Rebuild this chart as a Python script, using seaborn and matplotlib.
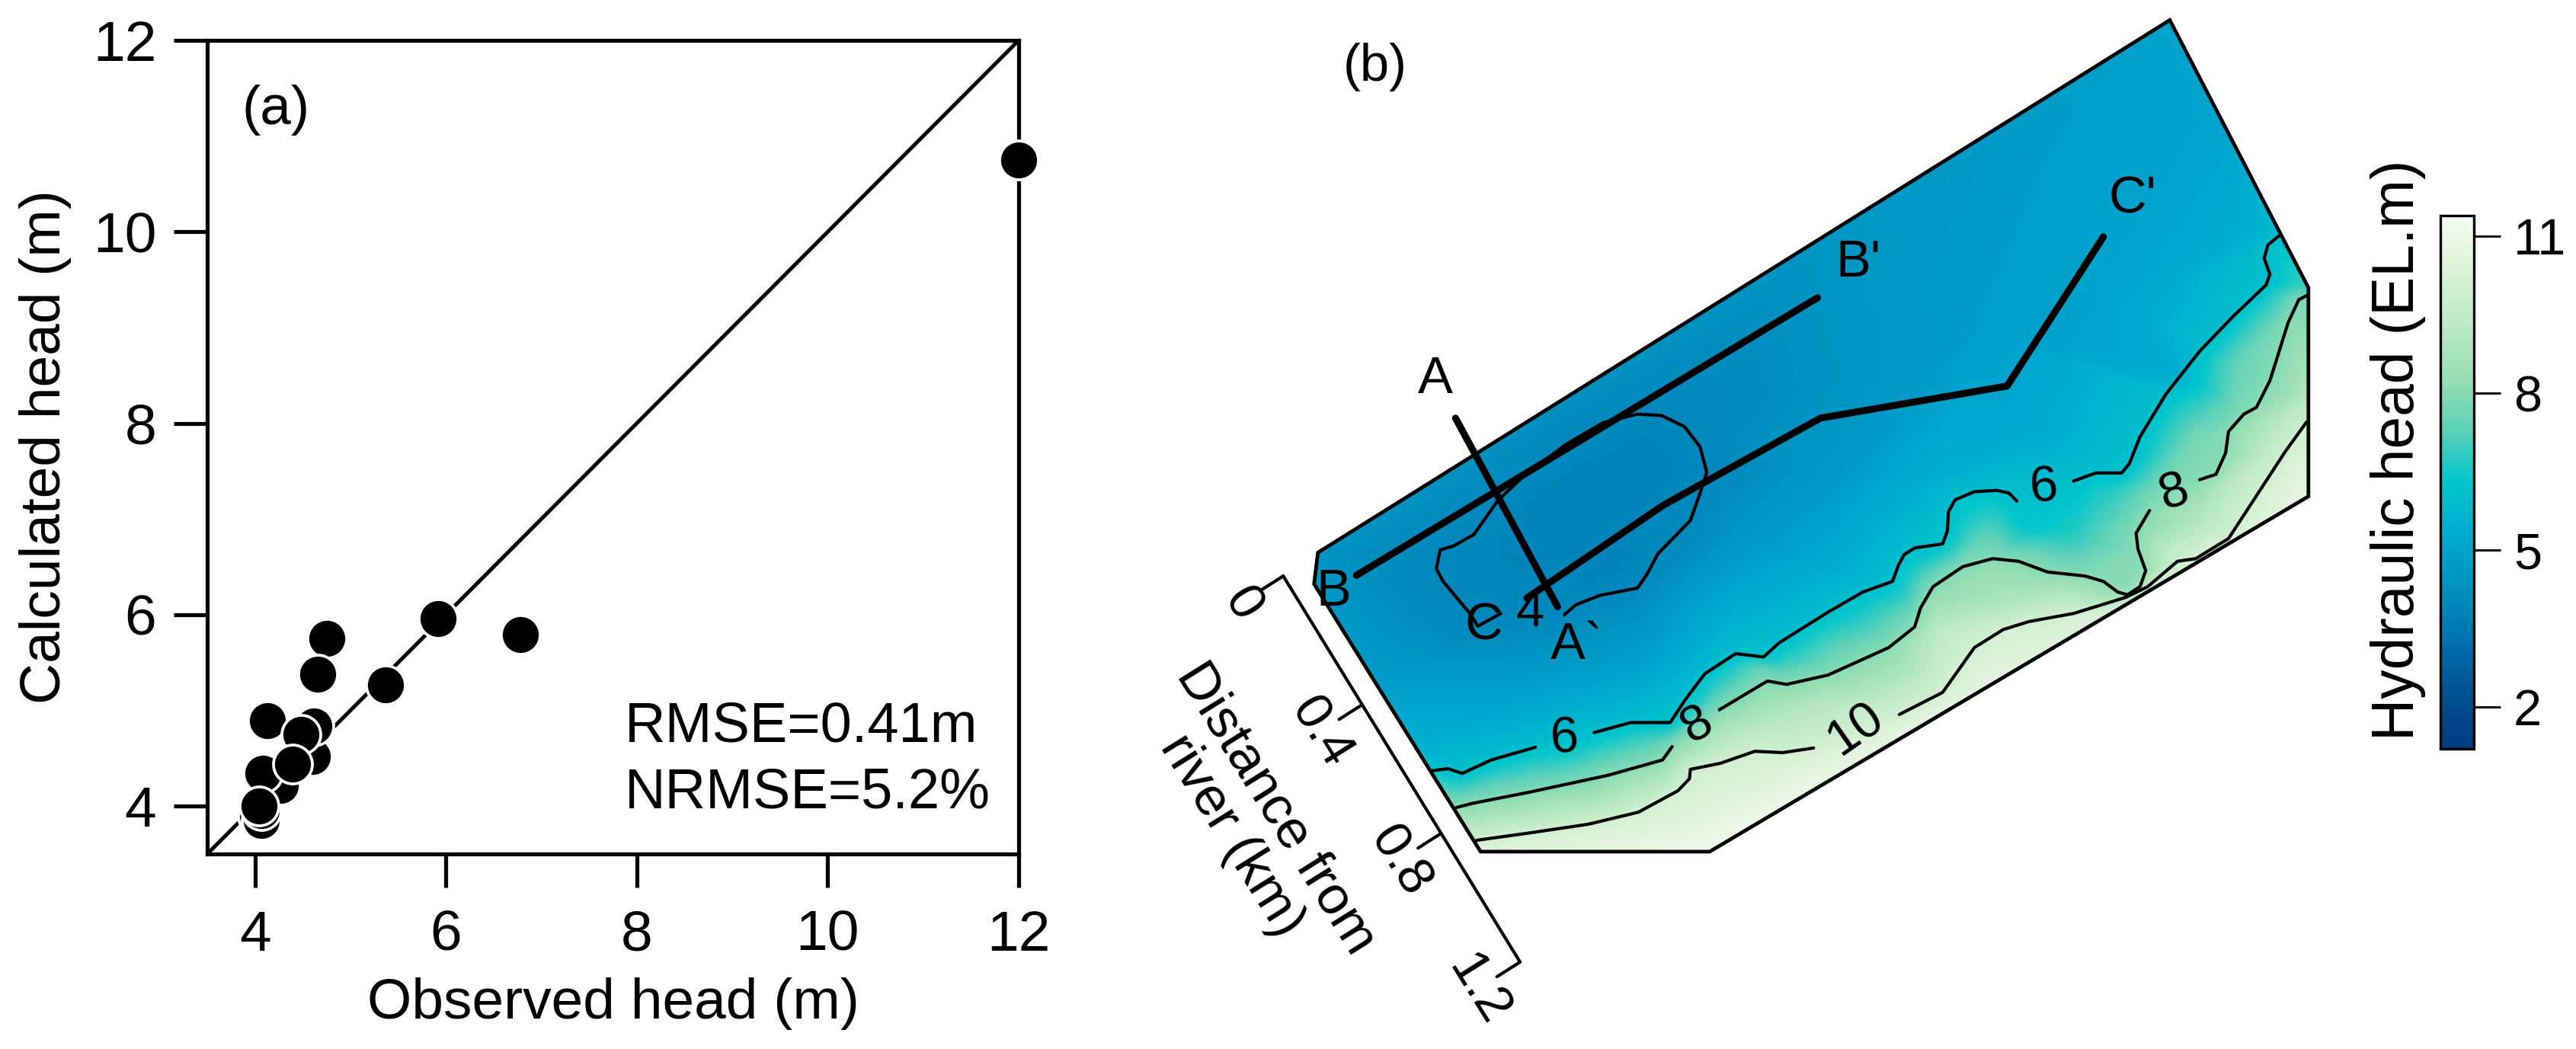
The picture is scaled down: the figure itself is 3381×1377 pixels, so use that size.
"""Observed vs calculated head (a) and hydraulic head map (b)."""

import matplotlib
matplotlib.use("Agg")

import matplotlib.pyplot as plt
import matplotlib.tri as mtri
import numpy as np
import pandas as pd
import seaborn as sns
from matplotlib.patches import Polygon

W, H = 3381, 1377

# panel (a): background points first, they are overlapped by the later ones
observed = [4.03, 4.07, 4.07, 4.27, 4.08, 4.60, 4.62, 12.0, 6.78, 5.92, 5.37,
            4.75, 4.66, 4.13, 4.48, 4.39, 4.04]
calculated = [3.90, 3.85, 3.95, 4.22, 4.34, 4.52, 4.84, 10.75, 5.79, 5.96, 5.27,
              5.75, 5.38, 4.89, 4.75, 4.44, 4.00]
head_ticks = [4, 6, 8, 10, 12]

# panel (b): map coordinates, x to the right and y downwards
outline_x = [1146, 1290, 1290, 668, 430, 257, 261]
outline_y = [30, 430, 742, 1273, 1273, 873, 826]

c4_x = [517, 529, 554, 593, 603, 614, 648, 658, 665, 658, 642, 618, 593, 557, 519,
        476, 448, 423, 402, 388, 384, 391, 420, 427, 451]
c4_y = [919, 904, 890, 879, 858, 828, 778, 737, 706, 668, 638, 621, 619, 632, 664,
        710, 748, 799, 816, 822, 850, 869, 919, 936, 917]

c6a_x = [380, 396, 411, 441, 487]
c6a_y = [1152, 1149, 1156, 1136, 1117]
c6b_x = [548, 586, 627, 643, 663, 695, 724, 740, 791, 827, 858, 864, 870, 881, 910,
         915, 916, 923, 943, 966, 979, 987]
c6b_y = [1095, 1080, 1080, 1045, 1007, 977, 982, 961, 915, 885, 869, 845, 829, 819,
         813, 793, 765, 747, 735, 733, 737, 749]
c6c_x = [1046, 1069, 1096, 1104, 1115, 1142, 1177, 1211, 1246, 1250, 1244, 1248, 1259]
c6c_y = [719, 707, 707, 693, 653, 589, 525, 474, 426, 410, 386, 366, 353]

c8a_x = [405, 421, 481, 562, 619, 629]
c8a_y = [1207, 1201, 1184, 1159, 1136, 1116]
c8b_x = [678, 728, 748, 791, 854, 881, 887, 900, 931, 962, 989, 1019, 1058, 1077,
         1092, 1102, 1115, 1121, 1113, 1111, 1125]
c8b_y = [1061, 1018, 1023, 1009, 968, 937, 909, 877, 847, 835, 839, 855, 861, 869,
         885, 889, 877, 853, 821, 797, 763]
c8c_x = [1177, 1194, 1204, 1207, 1223, 1236, 1250, 1269, 1280, 1288]
c8c_y = [717, 709, 677, 645, 619, 609, 569, 482, 448, 442]

c10a_x = [426, 481, 542, 594, 635, 647, 648, 679, 715, 744, 776]
c10a_y = [1256, 1245, 1232, 1214, 1182, 1164, 1150, 1141, 1123, 1125, 1118]
c10b_x = [865, 910, 943, 973, 1000, 1046, 1100, 1123, 1154, 1173, 1207, 1227, 1265, 1288]
c10b_y = [1068, 1035, 968, 941, 929, 917, 893, 877, 839, 835, 805, 761, 677, 631]

spot_x = [1146, 1290, 1290, 668, 430, 257, 261, 500, 800, 1000, 1210, 1250, 530, 600, 480,
          560, 700, 800, 950, 1100, 1000, 1150, 900, 600, 450, 340, 300, 800, 320, 360,
          1096, 1039, 996, 962, 943, 885, 874, 789, 1211, 1257, 1173, 1134, 400, 522,
          610, 683, 723, 981, 904, 1250, 1280, 1173, 1211, 481, 562, 623, 724, 791,
          481, 602, 683, 800, 950, 1100, 1200]
spot_y = [30, 430, 742, 1273, 1273, 873, 826, 610, 340, 170, 200, 340, 760, 680, 800,
          850, 800, 700, 500, 450, 650, 560, 720, 1000, 1050, 1000, 950, 850, 1036, 1104,
          741, 801, 789, 781, 801, 853, 901, 953, 541, 462, 661, 721, 1182, 1146,
          1109, 1045, 995, 901, 941, 621, 581, 781, 721, 1218, 1200, 1164, 1073, 1045,
          1259, 1241, 1209, 1160, 1032, 904, 819]
spot_head = [5.0, 7.0, 11.0, 11.2, 10.5, 4.5, 4.4, 4.3, 4.5, 4.7, 5.1, 5.6, 3.85, 3.9, 3.9,
             3.9, 4.5, 4.6, 4.8, 5.1, 5.3, 5.3, 5.5, 5.0, 5.0, 4.6, 4.5, 5.4, 4.9, 5.4,
             7.0, 6.6, 6.2, 7.0, 7.2, 6.8, 7.0, 6.9, 7.3, 7.2, 7.8, 7.6, 7.0, 7.0,
             7.2, 7.6, 7.5, 9.0, 9.3, 8.8, 8.5, 9.0, 9.3, 9.0, 9.0, 9.0, 9.0, 9.0,
             10.3, 10.5, 10.6, 11.0, 10.8, 10.2, 10.6]

section_a_x = [404, 510]
section_a_y = [625, 907]
section_b_x = [301, 780]
section_b_y = [860, 445]
section_c_x = [478, 620, 783, 977, 1077]
section_c_y = [894, 755, 625, 577, 354]

distance_ticks = [0, 0.4, 0.8, 1.2]
distance_labels = ["0", "0.4", "0.8", "1.2"]
distance_axis_x = [225, 471]
distance_axis_y = [861, 1438]

cbar_ticks = [2, 5, 8, 11]
cbar_range = [1.2, 11.4]
cmap_colors = ["#003a80", "#00508f", "#0070b0", "#0090c0", "#00aad0", "#00c6cc",
               "#5ed1b8", "#99dfb3", "#bdeac4", "#dcf3d8", "#f4fbee"]


def px_axes(fig, left, top, right, bottom):
    """Axes placed by image pixels."""
    return fig.add_axes([left / W, 1 - bottom / H, (right - left) / W, (bottom - top) / H])


def draw_path(ax, x, y, lw, **kwargs):
    sns.lineplot(x=x, y=y, color="black", linewidth=lw, sort=False, estimator=None,
                 errorbar=None, legend=False, ax=ax, solid_joinstyle="round", **kwargs)


def soften(grid, size=9, passes=2):
    """Box blur that ignores the masked cells outside the map."""
    values = np.ma.filled(grid, 0.0)
    weight = (~np.ma.getmaskarray(grid)).astype(float)
    kernel = np.ones(size)
    for _ in range(passes):
        for axis in (0, 1):
            values = np.apply_along_axis(np.convolve, axis, values, kernel, mode="same")
            weight = np.apply_along_axis(np.convolve, axis, weight, kernel, mode="same")
        values = values / np.maximum(weight, 1e-9)
        weight = np.where(weight > 0, 1.0, 0.0)
        values = values * weight
    return np.ma.masked_where(weight == 0, values)


sns.set_theme(style="ticks")
plt.rcParams["font.family"] = ["Liberation Sans", "DejaVu Sans"]

fig = plt.figure(figsize=(W / 300, H / 300), dpi=300, facecolor="white")

# --- panel (a)
ax_a = px_axes(fig, 272, 53, 1337, 1121)
sns.lineplot(x=[3.5, 12], y=[3.5, 12], color="black", linewidth=1.2, ax=ax_a, zorder=2)
points = pd.DataFrame({"observed": observed, "calculated": calculated})
sns.scatterplot(data=points, x="observed", y="calculated", color="black", edgecolor="white",
                s=150, linewidth=0.9, clip_on=False, legend=False, ax=ax_a, zorder=3)
ax_a.set_xlim(3.5, 12)
ax_a.set_ylim(3.5, 12)
ax_a.set_xticks(head_ticks)
ax_a.set_yticks(head_ticks)
ax_a.tick_params(axis="x", length=10.5, width=1.25, labelsize=18, pad=7, colors="black")
ax_a.tick_params(axis="y", length=10.5, width=1.25, labelsize=18, pad=5.5, colors="black")
for spine in ax_a.spines.values():
    spine.set_linewidth(1.25)
    spine.set_color("black")
ax_a.set_xlabel("Observed head (m)", fontsize=18, color="black")
ax_a.set_ylabel("Calculated head (m)", fontsize=18, color="black")
ax_a.xaxis.set_label_coords(0.5, -0.152)
ax_a.yaxis.set_label_coords(-0.167, 0.5)
ax_a.text(3.86, 11.27, "(a)", fontsize=17.5, ha="left", va="center", color="black")
ax_a.text(7.87, 4.83, "RMSE=0.41m", fontsize=17.8, ha="left", va="center", color="black")
ax_a.text(7.87, 4.14, "NRMSE=5.2%", fontsize=17.8, ha="left", va="center", color="black")

# --- panel (b)
ax_b = px_axes(fig, 1400, 0, 3381, 1377)
ax_b.set_xlim(0, 1568)
ax_b.set_ylim(1568, 0)
ax_b.axis("off")
ax_b.patch.set_alpha(0)

head_cmap = sns.blend_palette(cmap_colors, as_cmap=True)

contours = [(c4_x, c4_y, 4), (c6a_x, c6a_y, 6), (c6b_x, c6b_y, 6), (c6c_x, c6c_y, 6),
            (c8a_x, c8a_y, 8), (c8b_x, c8b_y, 8), (c8c_x, c8c_y, 8),
            (c10a_x, c10a_y, 10), (c10b_x, c10b_y, 10)]
field = pd.DataFrame({"x": spot_x, "y": spot_y, "head": spot_head})
for cx, cy, level in contours:
    field = pd.concat([field, pd.DataFrame({"x": cx, "y": cy, "head": level})])
field = field.drop_duplicates(subset=["x", "y"])

# head surface between the read-off spots, resampled to a fine grid
triang = mtri.Triangulation(field["x"].to_numpy(float), field["y"].to_numpy(float))
interp = mtri.LinearTriInterpolator(triang, field["head"].to_numpy(float))
gx, gy = np.meshgrid(np.linspace(240, 1300, 530), np.linspace(20, 1285, 632))
surface = soften(interp(gx, gy))
mesh = ax_b.pcolormesh(gx, gy, surface, shading="auto", cmap=head_cmap, vmin=cbar_range[0],
                       vmax=cbar_range[1], rasterized=True, zorder=1)
border = Polygon(np.column_stack([outline_x, outline_y]), closed=True, fill=False,
                 edgecolor="black", linewidth=1.15, joinstyle="miter", zorder=4)
ax_b.add_patch(border)
mesh.set_clip_path(border)

for cx, cy, level in contours:
    draw_path(ax_b, cx, cy, 1.0, zorder=3)

for sx, sy in [(section_a_x, section_a_y), (section_b_x, section_b_y), (section_c_x, section_c_y)]:
    draw_path(ax_b, sx, sy, 2.2, zorder=5, solid_capstyle="round")

contour_labels = [("4", 481, 917, 0), ("6", 517, 1105, 3), ("8", 655, 1085, 30),
                  ("10", 820, 1090, 35), ("6", 1015, 730, 5), ("8", 1150, 738, 18)]
for label, lx, ly, rot in contour_labels:
    ax_b.text(lx, ly, label, fontsize=16, ha="center", va="center", rotation=rot,
              color="black", zorder=6)

section_labels = [("A", 383, 567), ("A`", 530, 965), ("B", 277, 885), ("B'", 822, 393),
                  ("C", 433, 935), ("C'", 1107, 298), ("(b)", 320, 100)]
for label, lx, ly in section_labels:
    ax_b.text(lx, ly, label, fontsize=16.5, ha="center", va="center", color="black", zorder=6)

# distance from river axis
draw_path(ax_b, distance_axis_x, distance_axis_y, 1.0, zorder=3)
for tick, label in zip(distance_ticks, distance_labels):
    frac = tick / distance_ticks[-1]
    tx = distance_axis_x[0] + frac * (distance_axis_x[1] - distance_axis_x[0])
    ty = distance_axis_y[0] + frac * (distance_axis_y[1] - distance_axis_y[0])
    draw_path(ax_b, [tx, tx - 24], [ty, ty + 22], 1.0, zorder=3)
    ax_b.text(tx - 43, ty + 42, label, fontsize=16.5, ha="center", va="center", rotation=-58,
              rotation_mode="anchor", color="black")
ax_b.text(194, 1229, "Distance from\nriver (km)", fontsize=17, ha="center", va="center",
          rotation=-58, rotation_mode="anchor", linespacing=1.05, color="black")

# --- colour bar
cax = px_axes(fig, 3203, 283, 3247, 983)
cbar = fig.colorbar(mesh, cax=cax, ticks=cbar_ticks)
cbar.ax.tick_params(length=8.5, width=0.7, labelsize=16, pad=4, colors="black")
cbar.outline.set_linewidth(0.8)
cbar.outline.set_edgecolor("black")
cbar.ax.text(-1.25, 0.56, "Hydraulic head (EL.m)", fontsize=18.4, rotation=90, ha="center",
             va="center", transform=cbar.ax.transAxes, color="black")

fig.savefig("out.png", dpi=300)
plt.close(fig)
